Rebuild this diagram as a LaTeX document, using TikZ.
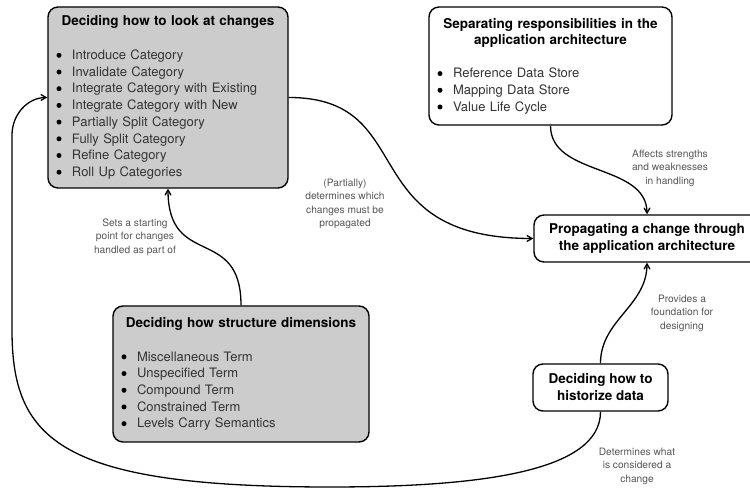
\documentclass[tikz,border=0pt]{standalone}
\usepackage{fontspec}
\setmainfont{TeX Gyre Heros}
\usepackage{xcolor}
\usepackage{tikz}
\usetikzlibrary{arrows,positioning}

\definecolor{boxgray}{HTML}{CCCCCC}
\definecolor{itemgray}{HTML}{333333}
\definecolor{notegray}{HTML}{555555}
\setlength{\parskip}{0pt}

\newcommand{\boxtitle}[1]{{\centering\fontsize{13.5}{16}\selectfont\bfseries #1\par}\vspace{17pt}}
\newcommand{\bdot}{\tikz[baseline={(0pt,-4.2pt)}]\fill (0pt,0pt) circle (2.5pt);}
\newcommand{\bitem}[1]{\noindent\makebox[16pt][l]{\hspace{0.5pt}\bdot}{\color{itemgray}#1}\par}

\tikzset{
decision/.style={draw, rounded corners=10pt, line width=1.4pt, inner xsep=8pt, inner ysep=0pt,
  font=\fontsize{13}{16.7}\selectfont},
goal/.style={draw, rounded corners=10pt, line width=1.4pt, fill=white, align=center,
  font=\fontsize{13.5}{17}\selectfont\bfseries},
note/.style={align=center, text=notegray, font=\fontsize{10.2}{13.5}\selectfont},
link/.style={->, >=angle 60, line width=1.3pt}
}

\begin{document}
\begin{tikzpicture}[x=1pt, y=1pt]
\useasboundingbox (0,0) rectangle (750,489);

\node[decision, fill=boxgray, minimum width=240pt, minimum height=181pt, text width=224pt] (look) at (168,391.5)
{\boxtitle{Deciding how to look at changes}
\bitem{Introduce Category}
\bitem{Invalidate Category}
\bitem{Integrate Category with Existing}
\bitem{Integrate Category with New}
\bitem{Partially Split Category}
\bitem{Fully Split Category}
\bitem{Refine Category}
\bitem{Roll Up Categories}};

\node[decision, fill=white, minimum width=243pt, minimum height=118pt, text width=227pt] (sep) at (550.5,423)
{\boxtitle{Separating responsibilities in the\\application architecture}
\bitem{Reference Data Store}
\bitem{Mapping Data Store}
\bitem{Value Life Cycle}};

\node[decision, fill=boxgray, minimum width=256pt, minimum height=136pt, text width=240pt] (dim) at (241,115)
{\boxtitle{Deciding how structure dimensions}
\bitem{Miscellaneous Term}
\bitem{Unspecified Term}
\bitem{Compound Term}
\bitem{Constrained Term}
\bitem{Levels Carry Semantics}};

\node[goal, minimum width=226pt, minimum height=47pt] (prop) at (647,250.5)
{Propagating a change through\\the application architecture};
\node[goal, minimum width=135pt, minimum height=47pt] (hist) at (600.5,101.5)
{Deciding how to\\historize data};

% edge labels
\node[note] (lblsets) at (135,252) {Sets a starting\\point for changes\\handled as part of};
\node[note] (lblpart) at (345,285) {(Partially)\\determines which\\changes must be\\propagated};
\node[note] (lblaffects) at (670,321) {Affects strengths\\and weaknesses\\in handling};
\node[note] (lblprovides) at (682,176) {Provides a\\foundation for\\designing};
\node[note] (lbldetermines) at (637,23) {Determines what\\is considered a\\change};

\coordinate (loopbot) at (330,2);
\coordinate (loopleft) at (12,159);
\coordinate (looptop) at (12,354);

\path[link] (look.east) edge[out=0, in=180, out looseness=1.2, in looseness=1.65] (prop.west);
\path[link] (sep.south) edge[out=-90, in=90] (prop.north);
\path[link] (hist.north) edge[out=90, in=-90] (prop.south);
\path[link] (dim.north) edge[out=90, in=-90, looseness=1.5] (look.south);
\draw[link] (hist.south) .. controls +(0,-60) and +(150,0) .. (loopbot)
  .. controls +(-270,0) and +(0,-110) .. (loopleft) -- (looptop)
  to[out=90, in=180] (look.west);
\end{tikzpicture}
\end{document}
